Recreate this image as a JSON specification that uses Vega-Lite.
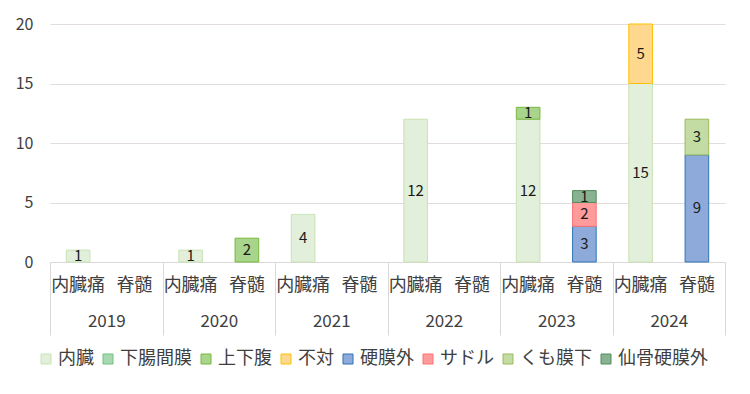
{
  "$schema": "https://vega.github.io/schema/vega-lite/v6.json",
  "width": 675,
  "height": 238,
  "autosize": {"type": "none"},
  "padding": {"left": 50, "top": 24, "right": 25, "bottom": 132},
  "config": {
    "font": "Noto Sans CJK JP",
    "view": {"stroke": null},
    "axis": {"labelFont": "Noto Sans CJK JP", "labelColor": "#404040", "title": null}
  },
  "data": {
    "values": [
      {"year": "2019", "cat": "内臓痛", "key": "2019 内臓痛", "series": "内臓", "s": 1, "v": 1},
      {"year": "2020", "cat": "内臓痛", "key": "2020 内臓痛", "series": "内臓", "s": 1, "v": 1},
      {"year": "2020", "cat": "脊髄", "key": "2020 脊髄", "series": "上下腹", "s": 3, "v": 2},
      {"year": "2021", "cat": "内臓痛", "key": "2021 内臓痛", "series": "内臓", "s": 1, "v": 4},
      {"year": "2022", "cat": "内臓痛", "key": "2022 内臓痛", "series": "内臓", "s": 1, "v": 12},
      {"year": "2023", "cat": "内臓痛", "key": "2023 内臓痛", "series": "内臓", "s": 1, "v": 12},
      {"year": "2023", "cat": "内臓痛", "key": "2023 内臓痛", "series": "上下腹", "s": 3, "v": 1},
      {"year": "2023", "cat": "脊髄", "key": "2023 脊髄", "series": "硬膜外", "s": 5, "v": 3},
      {"year": "2023", "cat": "脊髄", "key": "2023 脊髄", "series": "サドル", "s": 6, "v": 2},
      {"year": "2023", "cat": "脊髄", "key": "2023 脊髄", "series": "仙骨硬膜外", "s": 8, "v": 1},
      {"year": "2024", "cat": "内臓痛", "key": "2024 内臓痛", "series": "内臓", "s": 1, "v": 15},
      {"year": "2024", "cat": "内臓痛", "key": "2024 内臓痛", "series": "不対", "s": 4, "v": 5},
      {"year": "2024", "cat": "脊髄", "key": "2024 脊髄", "series": "硬膜外", "s": 5, "v": 9},
      {"year": "2024", "cat": "脊髄", "key": "2024 脊髄", "series": "くも膜下", "s": 7, "v": 3}
    ]
  },
  "layer": [
    {
      "encoding": {
        "x": {
          "field": "key",
          "type": "nominal",
          "sort": null,
          "scale": {
            "domain": ["2019 内臓痛", "2019 脊髄", "2020 内臓痛", "2020 脊髄", "2021 内臓痛", "2021 脊髄", "2022 内臓痛", "2022 脊髄", "2023 内臓痛", "2023 脊髄", "2024 内臓痛", "2024 脊髄"],
            "paddingInner": 0.58,
            "paddingOuter": 0.29
          },
          "axis": {
            "orient": "bottom",
            "labelExpr": "split(datum.label, ' ')[1]",
            "labelAngle": 0,
            "ticks": false,
            "domain": true,
            "domainColor": "#d9d9d9",
            "labelFontSize": 18,
            "labelPadding": 14
          }
        },
        "y": {
          "field": "v",
          "type": "quantitative",
          "stack": "zero",
          "scale": {"domain": [0, 20]},
          "axis": {
            "values": [0, 5, 10, 15, 20],
            "grid": true,
            "gridColor": "#e3dcdc",
            "domain": false,
            "ticks": false,
            "labelFontSize": 16,
            "labelPadding": 17,
            "labelColor": "#404040"
          }
        },
        "order": {"field": "s", "type": "quantitative"}
      },
      "layer": [
        {
          "mark": {"type": "bar", "strokeWidth": 1},
          "encoding": {
            "fill": {
              "field": "series",
              "type": "nominal",
              "scale": {
                "domain": ["内臓", "下腸間膜", "上下腹", "不対", "硬膜外", "サドル", "くも膜下", "仙骨硬膜外"],
                "range": ["#e2efda", "#a8d8b0", "#a9d48c", "#ffd88f", "#8eaadb", "#ff9b9b", "#c2dca4", "#88b291"]
              },
              "legend": {
                "orient": "none",
                "legendX": -13,
                "legendY": 326,
                "direction": "horizontal",
                "title": null,
                "symbolType": "square",
                "symbolSize": 100,
                "symbolStrokeWidth": 1,
                "labelFontSize": 18,
                "labelColor": "#404040",
                "labelFont": "Noto Sans CJK JP",
                "columnPadding": 5,
                "symbolOffset": 0,
                "labelOffset": 3
              }
            },
            "stroke": {
              "field": "series",
              "type": "nominal",
              "scale": {
                "domain": ["内臓", "下腸間膜", "上下腹", "不対", "硬膜外", "サドル", "くも膜下", "仙骨硬膜外"],
                "range": ["#c9e3b4", "#70c07a", "#78b83c", "#ffc000", "#2e75b6", "#ff7070", "#9bbb59", "#548b5a"]
              }
            }
          }
        },
        {
          "mark": {"type": "text", "fontSize": 15, "color": "#1a1a1a", "baseline": "middle"},
          "encoding": {
            "y": {"field": "v", "type": "quantitative", "stack": "zero", "bandPosition": 0.5},
            "detail": {"field": "series"},
            "text": {"field": "v", "type": "quantitative"}
          }
        }
      ]
    },
    {
      "mark": {"type": "rule", "opacity": 0},
      "encoding": {
        "x": {
          "field": "year",
          "type": "nominal",
          "scale": {"domain": ["2019", "2020", "2021", "2022", "2023", "2024"], "paddingInner": 0, "paddingOuter": 0},
          "axis": {
            "orient": "bottom",
            "labelAngle": 0,
            "ticks": true,
            "tickBand": "extent",
            "tickSize": 73,
            "tickColor": "#d9d9d9",
            "domain": false,
            "labelFontSize": 17,
            "labelPadding": -22
          }
        }
      }
    }
  ],
  "resolve": {"scale": {"x": "independent"}, "axis": {"x": "independent"}}
}
